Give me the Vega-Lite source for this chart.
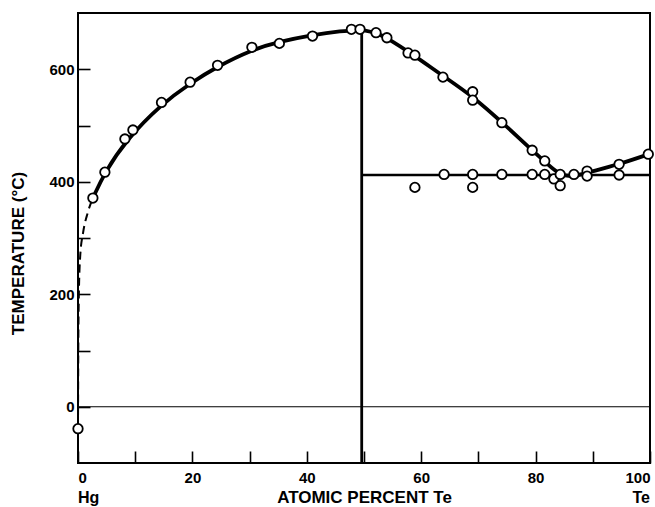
{
  "$schema": "https://vega.github.io/schema/vega-lite/v6.json",
  "width": 572,
  "height": 450,
  "autosize": {"type": "none"},
  "padding": {"left": 78, "top": 13, "right": 5, "bottom": 44},
  "background": "white",
  "config": {
    "view": {"stroke": "#000", "strokeWidth": 2},
    "font": "Liberation Sans",
    "axis": {"labelFont": "Liberation Sans", "titleFont": "Liberation Sans", "labelColor": "#000", "titleColor": "#000", "domain": false, "grid": false}
  },
  "datasets": {
    "curveLeft": [
      {"x": 2.6, "y": 371}, {"x": 4.7, "y": 417}, {"x": 8.4, "y": 474}, {"x": 14.6, "y": 538},
      {"x": 19.6, "y": 575}, {"x": 24.4, "y": 605}, {"x": 30.2, "y": 634}, {"x": 35.2, "y": 649},
      {"x": 41, "y": 661}, {"x": 46, "y": 668}, {"x": 49.6, "y": 670}
    ],
    "curveRight": [
      {"x": 49.6, "y": 670}, {"x": 52.1, "y": 665}, {"x": 54, "y": 656}, {"x": 58.3, "y": 628},
      {"x": 63.8, "y": 588}, {"x": 69, "y": 552}, {"x": 74.1, "y": 506}, {"x": 79.4, "y": 456},
      {"x": 82, "y": 432}, {"x": 84.3, "y": 411}, {"x": 86.7, "y": 409}, {"x": 89, "y": 416},
      {"x": 94.6, "y": 431}, {"x": 99.8, "y": 449}
    ],
    "dashed": [
      {"x": 0, "y": -39}, {"x": 0.05, "y": 100}, {"x": 0.15, "y": 200}, {"x": 0.4, "y": 270},
      {"x": 0.9, "y": 310}, {"x": 1.7, "y": 345}, {"x": 2.6, "y": 371}
    ],
    "points": [
      {"x": 0, "y": -39}, {"x": 2.6, "y": 371}, {"x": 4.7, "y": 417}, {"x": 8.2, "y": 476},
      {"x": 9.6, "y": 492}, {"x": 14.6, "y": 541}, {"x": 19.6, "y": 577}, {"x": 24.4, "y": 607},
      {"x": 30.4, "y": 639}, {"x": 35.2, "y": 646}, {"x": 41, "y": 659}, {"x": 47.8, "y": 671},
      {"x": 49.3, "y": 671}, {"x": 52.1, "y": 665}, {"x": 54, "y": 656}, {"x": 57.7, "y": 629},
      {"x": 58.9, "y": 625}, {"x": 63.8, "y": 586}, {"x": 69, "y": 560}, {"x": 69, "y": 545},
      {"x": 74.1, "y": 505}, {"x": 79.4, "y": 456}, {"x": 81.6, "y": 437}, {"x": 83.2, "y": 405},
      {"x": 84.3, "y": 393}, {"x": 84.3, "y": 413}, {"x": 86.7, "y": 413}, {"x": 89, "y": 419},
      {"x": 89, "y": 410}, {"x": 94.6, "y": 431}, {"x": 94.6, "y": 412}, {"x": 99.7, "y": 449},
      {"x": 64, "y": 413}, {"x": 69, "y": 413}, {"x": 74.1, "y": 413}, {"x": 79.4, "y": 413},
      {"x": 81.6, "y": 413}, {"x": 58.9, "y": 390}, {"x": 69, "y": 390}
    ],
    "hrules": [
      {"x": 0, "x2": 100, "y": 0, "w": "thin"},
      {"x": 49.6, "x2": 100, "y": 412, "w": "thick"}
    ],
    "vrules": [
      {"x": 49.6, "y": -100, "y2": 670}
    ],
    "endLeft": [{"x": 0, "label": "Hg"}],
    "endRight": [{"x": 100, "label": "Te"}]
  },
  "layer": [
    {
      "data": {"name": "hrules"},
      "mark": {"type": "rule", "color": "#000"},
      "encoding": {
        "x": {"field": "x", "type": "quantitative", "scale": {"domain": [0, 100], "nice": false, "zero": false},
          "axis": {"values": [0, 10, 20, 30, 40, 50, 60, 70, 80, 90, 100], "labelExpr": "datum.value % 20 == 0 ? datum.label : ''",
            "tickSize": -12, "tickColor": "#000", "tickWidth": 1.6, "labelPadding": 19, "labelFontSize": 15, "labelFontWeight": "bold", "labelFlush": true,
            "title": "ATOMIC PERCENT Te", "titleFontSize": 17, "titleFontWeight": "bold", "titlePadding": 4}},
        "x2": {"field": "x2"},
        "y": {"field": "y", "type": "quantitative", "scale": {"domain": [-100, 700], "nice": false, "zero": false},
          "axis": {"values": [0, 100, 200, 300, 400, 500, 600], "labelExpr": "datum.value % 200 == 0 ? datum.label : ''",
            "tickSize": -12, "tickColor": "#000", "tickWidth": 1.6, "labelPadding": 16, "labelFontSize": 15, "labelFontWeight": "bold",
            "title": "TEMPERATURE (°C)", "titleFontSize": 17, "titleFontWeight": "bold", "titleX": -51, "titleY": 240, "titleAnchor": "middle"}},
        "strokeWidth": {"field": "w", "type": "nominal", "scale": {"domain": ["thin", "thick"], "range": [1.2, 2.6]}, "legend": null}
      }
    },
    {
      "data": {"name": "vrules"},
      "mark": {"type": "rule", "color": "#000", "strokeWidth": 2.8},
      "encoding": {
        "x": {"field": "x", "type": "quantitative"},
        "y": {"field": "y", "type": "quantitative"},
        "y2": {"field": "y2"}
      }
    },
    {
      "data": {"name": "dashed"},
      "mark": {"type": "line", "color": "#000", "strokeWidth": 2, "strokeDash": [8, 5], "interpolate": "monotone"},
      "encoding": {
        "x": {"field": "x", "type": "quantitative"},
        "y": {"field": "y", "type": "quantitative"},
        "order": {"field": "y", "type": "quantitative"}
      }
    },
    {
      "data": {"name": "curveLeft"},
      "mark": {"type": "line", "color": "#000", "strokeWidth": 3.8, "interpolate": "basis"},
      "encoding": {
        "x": {"field": "x", "type": "quantitative"},
        "y": {"field": "y", "type": "quantitative"}
      }
    },
    {
      "data": {"name": "curveRight"},
      "mark": {"type": "line", "color": "#000", "strokeWidth": 3.8, "interpolate": "basis"},
      "encoding": {
        "x": {"field": "x", "type": "quantitative"},
        "y": {"field": "y", "type": "quantitative"}
      }
    },
    {
      "data": {"name": "points"},
      "mark": {"type": "point", "shape": "circle", "filled": true, "fill": "white", "stroke": "#000", "strokeWidth": 1.8, "size": 90, "opacity": 1},
      "encoding": {
        "x": {"field": "x", "type": "quantitative"},
        "y": {"field": "y", "type": "quantitative"}
      }
    },
    {
      "data": {"name": "endLeft"},
      "mark": {"type": "text", "fontSize": 16, "fontWeight": "bold", "color": "#000", "baseline": "middle", "align": "left", "dy": 35},
      "encoding": {
        "x": {"field": "x", "type": "quantitative"},
        "y": {"datum": -100, "type": "quantitative"},
        "text": {"field": "label"}
      }
    },
    {
      "data": {"name": "endRight"},
      "mark": {"type": "text", "fontSize": 16, "fontWeight": "bold", "color": "#000", "baseline": "middle", "align": "right", "dy": 35},
      "encoding": {
        "x": {"field": "x", "type": "quantitative"},
        "y": {"datum": -100, "type": "quantitative"},
        "text": {"field": "label"}
      }
    }
  ]
}
